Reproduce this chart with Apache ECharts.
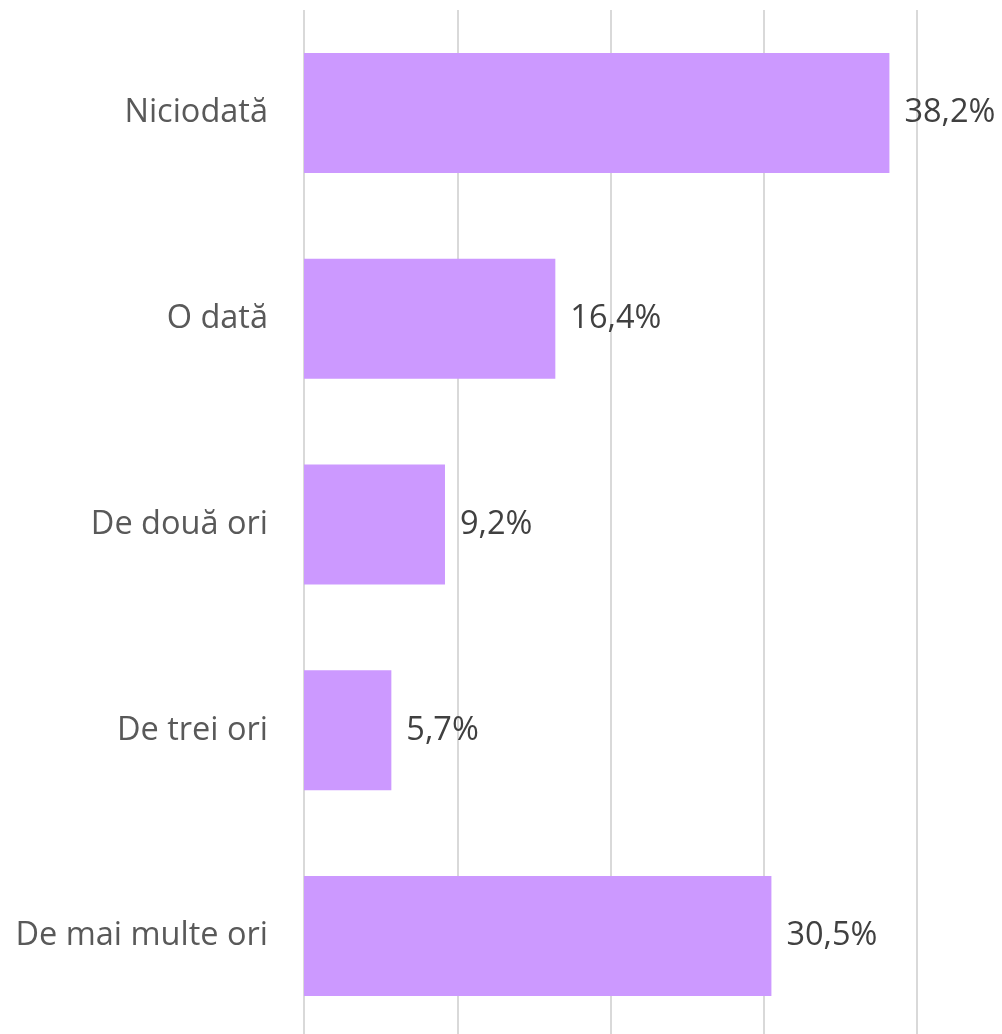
<!DOCTYPE html>
<html><head><meta charset="utf-8">
<script src="https://cdn.jsdelivr.net/npm/echarts@6/dist/echarts.min.js"></script>
<style>html,body{margin:0;padding:0;background:#fff;overflow:hidden}#c{width:1002px;height:1050px}</style>
</head><body><div id="c"></div>
<script>
const categories = ["Niciodată", "O dată", "De două ori", "De trei ori", "De mai multe ori"];
const values = [38.2, 16.4, 9.2, 5.7, 30.5];
const labels = ["38,2%", "16,4%", "9,2%", "5,7%", "30,5%"];

const chart = echarts.init(document.getElementById('c'), null, {renderer: 'canvas'});
chart.setOption({
  animation: false,
  grid: {left: 304, top: 10, width: 613, height: 1029, containLabel: false},
  xAxis: {
    type: 'value', min: 0, max: 40, interval: 10,
    axisLabel: {show: false}, axisLine: {show: false}, axisTick: {show: false},
    splitLine: {show: true, lineStyle: {color: '#d9d9d9', width: 2}}
  },
  yAxis: {
    type: 'category', data: categories, inverse: true,
    axisLine: {show: false}, axisTick: {show: false},
    axisLabel: {margin: 36, color: '#595959', fontSize: 32.5, fontFamily: 'Open Sans'}
  },
  series: [{
    type: 'bar', data: values, barWidth: 120,
    itemStyle: {color: '#CC99FF'},
    label: {show: true, position: 'right', distance: 15, color: '#404040', fontSize: 32.5, fontFamily: 'Open Sans',
      formatter: p => labels[p.dataIndex]}
  }]
});
</script></body></html>
